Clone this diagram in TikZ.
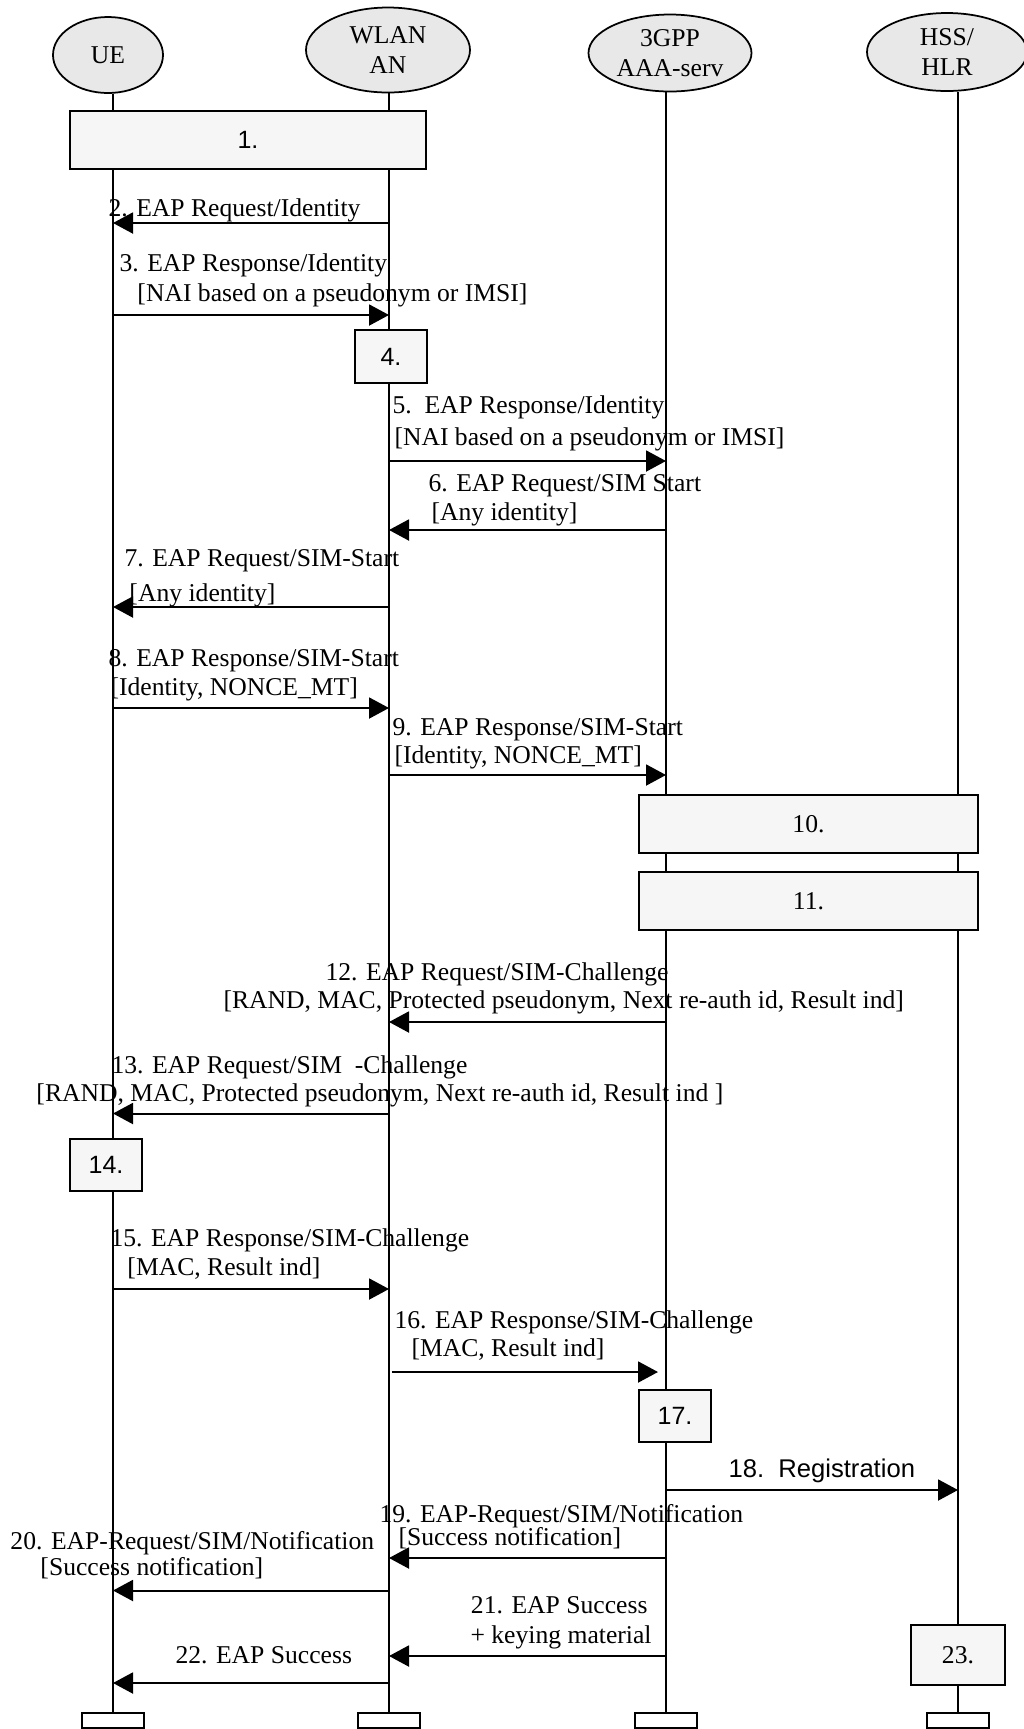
\documentclass[tikz,border=0pt]{standalone}
\usepackage{fontspec}
\setmainfont{Liberation Serif}
\setsansfont{Liberation Sans}
\usetikzlibrary{arrows.meta,shapes.geometric}
\definecolor{headfill}{gray}{0.91}
\definecolor{boxfill}{gray}{0.965}

\begin{document}
\begin{tikzpicture}[x=0.4pt,y=-0.4pt,
  font=\fontsize{10.25}{12}\selectfont,
  head/.style={ellipse,draw,fill=headfill,line width=0.7pt,inner sep=0pt,align=center},
  proc/.style={rectangle,draw,fill=boxfill,line width=0.8pt,inner sep=0pt},
  foot/.style={rectangle,draw,fill=white,line width=0.8pt,minimum width=24.8pt,minimum height=6.2pt,inner sep=0pt},
  life/.style={line width=0.7pt},
  msg/.style={-{Triangle[length=8pt,width=8.4pt]},line width=0.8pt},
  lbl/.style={anchor=base west,inner sep=0pt}]
\useasboundingbox (0,0) rectangle (1024,1729);

%entities and lifelines
\node[head,minimum width=44pt,minimum height=30.4pt] (ue) at (108,55) {UE};
\node[head,minimum width=65.6pt,minimum height=34pt] (wlan) at (388,50) {WLAN\\AN};
\node[head,minimum width=65.2pt,minimum height=30.8pt] (aaa) at (670,53) {3GPP\\AAA-serv};
\node[head,minimum width=64pt,minimum height=31.2pt] (hss) at (947,52) {HSS/\\HLR};
\node[foot] (ueEnd) at (113,1720.5) {};
\node[foot] (wlanEnd) at (389,1720.5) {};
\node[foot] (aaaEnd) at (666,1720.5) {};
\node[foot] (hssEnd) at (958,1720.5) {};
\draw[life] (ue.south -| ueEnd) -- (ueEnd);
\draw[life] (wlan.south -| wlanEnd) -- (wlanEnd);
\draw[life] (aaa.south -| aaaEnd) -- (aaaEnd);
\draw[life] (hss.south -| hssEnd) -- (hssEnd);

%procedure boxes
\node[proc,minimum width=142.4pt,minimum height=23.2pt,font=\sffamily] (p1) at (248,140) {1.};
\node[proc,minimum width=28.8pt,minimum height=21.2pt,font=\sffamily] (p4) at (391,356.5) {4.};
\node[proc,minimum width=135.6pt,minimum height=23.2pt] (p10) at (808.5,824) {10.};
\node[proc,minimum width=135.6pt,minimum height=23.2pt] (p11) at (808.5,901) {11.};
\node[proc,minimum width=28.8pt,minimum height=20.8pt,font=\sffamily] (p14) at (106,1165) {14.};
\node[proc,minimum width=28.8pt,minimum height=20.8pt,font=\sffamily] (p17) at (675,1416) {17.};
\node[proc,minimum width=37.6pt,minimum height=24pt] (p23) at (958,1655) {23.};

%messages
\draw[msg] (wlanEnd |- 0,223) -- (ueEnd |- 0,223);
\node[lbl] (t2) at (108,216) {2. EAP Request/Identity};
\draw[msg] (ueEnd |- 0,315) -- (wlanEnd |- 0,315);
\node[lbl] (t3a) at (119,271) {3. EAP Response/Identity};
\node[lbl] (t3b) at (137,301) {[NAI based on a pseudonym or IMSI]};
\draw[msg] (wlanEnd |- 0,461) -- (aaaEnd |- 0,461);
\node[lbl] (t5a) at (392,413) {5.\ \ EAP Response/Identity};
\node[lbl] (t5b) at (394,445) {[NAI based on a pseudonym or IMSI]};
\draw[msg] (aaaEnd |- 0,530) -- (wlanEnd |- 0,530);
\node[lbl] (t6a) at (428,491) {6. EAP Request/SIM Start};
\node[lbl] (t6b) at (431,520) {[Any identity]};
\draw[msg] (wlanEnd |- 0,607) -- (ueEnd |- 0,607);
\node[lbl] (t7a) at (124,566) {7. EAP Request/SIM-Start};
\node[lbl] (t7b) at (129,601) {[Any identity]};
\draw[msg] (ueEnd |- 0,708) -- (wlanEnd |- 0,708);
\node[lbl] (t8a) at (108,666) {8. EAP Response/SIM-Start};
\node[lbl] (t8b) at (110,695) {[Identity, NONCE\_MT]};
\draw[msg] (wlanEnd |- 0,775) -- (aaaEnd |- 0,775);
\node[lbl] (t9a) at (392,735) {9. EAP Response/SIM-Start};
\node[lbl] (t9b) at (394,763) {[Identity, NONCE\_MT]};
\draw[msg] (aaaEnd |- 0,1022) -- (wlanEnd |- 0,1022);
\node[lbl] (t12a) at (325,980) {12. EAP Request/SIM-Challenge};
\node[lbl] (t12b) at (223,1008) {[RAND, MAC, Protected pseudonym, Next re-auth id, Result ind]};
\draw[msg] (wlanEnd |- 0,1113.5) -- (ueEnd |- 0,1113.5);
\node[lbl] (t13a) at (111,1073) {13. EAP Request/SIM\ \ -Challenge};
\node[lbl] (t13b) at (36,1101) {[RAND, MAC, Protected pseudonym, Next re-auth id, Result ind ]};
\draw[msg] (ueEnd |- 0,1289) -- (wlanEnd |- 0,1289);
\node[lbl] (t15a) at (110,1246) {15. EAP Response/SIM-Challenge};
\node[lbl] (t15b) at (127,1275) {[MAC, Result ind]};
\draw[msg,shorten <=1pt,shorten >=3.2pt] (wlanEnd |- 0,1372) -- (aaaEnd |- 0,1372);
\node[lbl] (t16a) at (394,1328) {16. EAP Response/SIM-Challenge};
\node[lbl] (t16b) at (411,1356) {[MAC, Result ind]};
\draw[msg] (aaaEnd |- 0,1490) -- (hssEnd |- 0,1490);
\node[lbl,font=\sffamily\fontsize{10.25}{12}\selectfont] (t18) at (728,1477) {18.\ \ Registration};
\draw[msg] (aaaEnd |- 0,1558) -- (wlanEnd |- 0,1558);
\node[lbl] (t19a) at (379,1522) {19. EAP-Request/SIM/Notification};
\node[lbl] (t19b) at (398,1545) {[Success notification]};
\draw[msg] (wlanEnd |- 0,1590.5) -- (ueEnd |- 0,1590.5);
\node[lbl] (t20a) at (10,1549) {20. EAP-Request/SIM/Notification};
\node[lbl] (t20b) at (40,1575) {[Success notification]};
\draw[msg] (aaaEnd |- 0,1656) -- (wlanEnd |- 0,1656);
\node[lbl,anchor=base east] (t21a) at (648,1613) {21. EAP Success};
\node[lbl,anchor=base east] (t21b) at (652,1643) {+ keying material};
\draw[msg] (wlanEnd |- 0,1683) -- (ueEnd |- 0,1683);
\node[lbl] (t22) at (175,1663) {22. EAP Success};
\end{tikzpicture}
\end{document}
